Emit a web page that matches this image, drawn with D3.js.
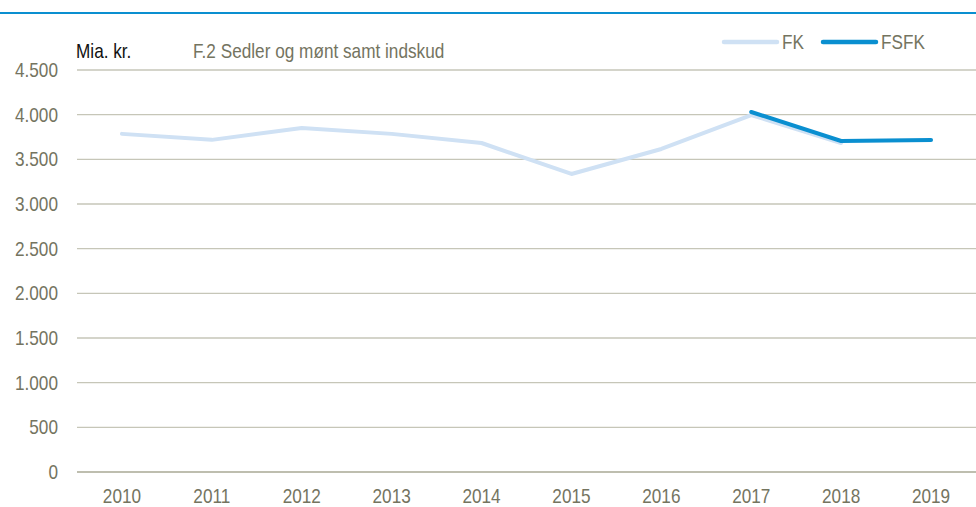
<!DOCTYPE html>
<html>
<head>
<meta charset="utf-8">
<script src="https://cdn.jsdelivr.net/npm/d3@7"></script>
<style>
  body { margin: 0; background: #fff; }
  svg { display: block; font-family: "Liberation Sans", Arial, sans-serif; }
</style>
</head>
<body>
<script>
// Chart data
const years = ["2010", "2011", "2012", "2013", "2014", "2015", "2016", "2017", "2018", "2019"];
const fkValues = [3785, 3718, 3850, 3785, 3683, 3336, 3616, 3996, 3683, null];
const fsfkValues = [null, null, null, null, null, null, null, 4030, 3705, 3717];
const yTicks = [0, 500, 1000, 1500, 2000, 2500, 3000, 3500, 4000, 4500];

let width = 976;
let height = 507;
let margin = { top: 70, right: 0, bottom: 35, left: 77 };
let squeeze = 0.86; // narrow look, like Arial Narrow
let fontSize = 20;
let grey = "#74745f";

let svg = d3.select("body").append("svg")
    .attr("width", width)
    .attr("height", height);

// Top rule
svg.append("rect")
    .attr("x", 0).attr("y", 12)
    .attr("width", width).attr("height", 2)
    .attr("fill", "#0a8fd0");

let x = d3.scaleBand()
    .domain(years)
    .range([margin.left, width - margin.right]);

let y = d3.scaleLinear()
    .domain([0, 4500])
    .range([height - margin.bottom, margin.top]);

// Gridlines
svg.append("g")
    .selectAll("line")
    .data(yTicks)
    .join("line")
    .attr("x1", margin.left)
    .attr("x2", width)
    .attr("y1", d => y(d))
    .attr("y2", d => y(d))
    .attr("stroke", d => d === 0 ? "#a8a894" : "#c6c6b8")
    .attr("stroke-width", 1.3);

// Y axis labels
svg.append("g")
    .selectAll("text")
    .data(yTicks)
    .join("text")
    .attr("transform", d => `translate(58,${y(d)}) scale(${squeeze},1)`)
    .attr("dy", "0.35em")
    .attr("text-anchor", "end")
    .attr("font-size", fontSize)
    .attr("fill", grey)
    .text(d => d3.format(",")(d).replace(/,/g, "."));

// X axis labels
svg.append("g")
    .selectAll("text")
    .data(years)
    .join("text")
    .attr("transform", d => `translate(${x(d) + x.bandwidth() / 2},503) scale(${squeeze},1)`)
    .attr("text-anchor", "middle")
    .attr("font-size", fontSize)
    .attr("fill", grey)
    .text(d => d);

let line = d3.line()
    .defined(d => d[1] != null)
    .x(d => x(d[0]) + x.bandwidth() / 2)
    .y(d => y(d[1]));

svg.append("path")
    .datum(years.map((yr, i) => [yr, fkValues[i]]))
    .attr("fill", "none")
    .attr("stroke", "#cfe1f4")
    .attr("stroke-width", 4)
    .attr("stroke-linejoin", "round")
    .attr("stroke-linecap", "round")
    .attr("d", line);

svg.append("path")
    .datum(years.map((yr, i) => [yr, fsfkValues[i]]))
    .attr("fill", "none")
    .attr("stroke", "#0a8fd0")
    .attr("stroke-width", 4)
    .attr("stroke-linejoin", "round")
    .attr("stroke-linecap", "round")
    .attr("d", line);

// Unit and title
svg.append("text")
    .attr("transform", `translate(76,58) scale(${squeeze},1)`)
    .attr("font-size", fontSize)
    .attr("fill", "#111")
    .text("Mia. kr.");

svg.append("text")
    .attr("transform", `translate(193,58) scale(${squeeze},1)`)
    .attr("font-size", fontSize)
    .attr("fill", grey)
    .text("F.2 Sedler og mønt samt indskud");

// Legend
let legendItems = [
    { name: "FK", color: "#cfe1f4", x: 724 },
    { name: "FSFK", color: "#0a8fd0", x: 823 }
];

let legend = svg.append("g")
    .selectAll("g")
    .data(legendItems)
    .join("g")
    .attr("transform", d => `translate(${d.x},42)`);

legend.append("line")
    .attr("x1", 0).attr("x2", 53)
    .attr("stroke", d => d.color)
    .attr("stroke-width", 4.5)
    .attr("stroke-linecap", "round");

legend.append("text")
    .attr("transform", `translate(58,7) scale(${squeeze},1)`)
    .attr("font-size", fontSize)
    .attr("fill", grey)
    .text(d => d.name);
</script>
</body>
</html>
